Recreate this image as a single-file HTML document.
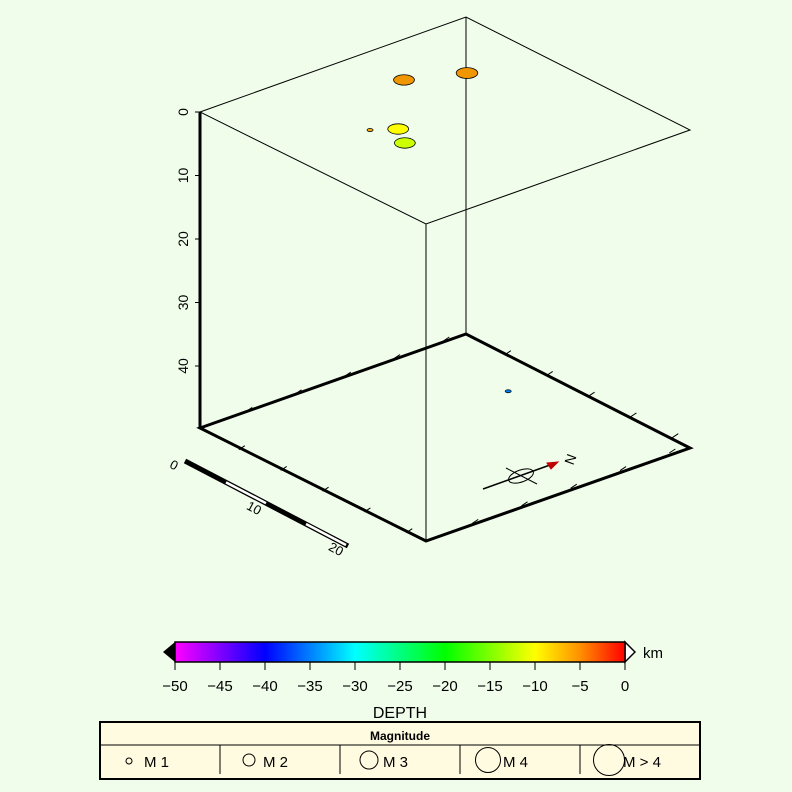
<!DOCTYPE html>
<html><head><meta charset="utf-8"><style>
html,body{margin:0;padding:0;background:#f0fdea;}
svg{display:block;font-family:"Liberation Sans",sans-serif;}
</style></head><body>
<svg id="chart" width="792" height="792" viewBox="0 0 792 792">
<rect width="792" height="792" fill="#f0fdea"/>
<g id="box" fill="none" stroke="#000">
  <polygon points="200,112 466,17 690,130 426,224" stroke-width="1"/>
  <line x1="466" y1="17" x2="466" y2="334" stroke-width="1"/>
  <line x1="426" y1="224" x2="426" y2="541" stroke-width="1"/>
  <line x1="200" y1="112" x2="200" y2="428" stroke-width="3"/>
  <polygon points="200,428 466,334 690,448 426,541" stroke-width="3"/>
</g>
<g id="ticks" stroke="#000" stroke-width="1"></g>
<g id="zaxis"></g>
<g>
  <line x1="185" y1="461" x2="348" y2="546" stroke="#000" stroke-width="5"/>
  <line x1="226" y1="482.4" x2="266" y2="503.2" stroke="#fff" stroke-width="2.5"/>
  <line x1="306" y1="524" x2="346" y2="545" stroke="#fff" stroke-width="2.5"/>
  <text x="172" y="469" font-size="13" transform="rotate(28 172 469)" text-anchor="middle">0</text>
  <text x="252" y="512" font-size="13" transform="rotate(28 252 512)" text-anchor="middle">10</text>
  <text x="334" y="553" font-size="13" transform="rotate(28 334 553)" text-anchor="middle">20</text>
</g>
<g stroke="#000" fill="none">
  <line x1="483" y1="489" x2="550" y2="465" stroke-width="1.5"/>
  <ellipse cx="521" cy="476" rx="13" ry="6" transform="rotate(-20 521 476)"/>
  <line x1="506" y1="468" x2="537" y2="484"/>
  <polygon points="547,463 558,462 551,469" fill="#c00000" stroke="#c00000"/>
  <text x="575" y="461" font-size="14" fill="#000" stroke="none" transform="rotate(-70 575 461)" text-anchor="middle">N</text>
</g>
<g id="events"></g>
<defs><linearGradient id="rainbow" x1="0" x2="1" y1="0" y2="0">
  <stop offset="0" stop-color="#ff00ff"/><stop offset="0.1" stop-color="#8000ff"/>
  <stop offset="0.2" stop-color="#0000ff"/><stop offset="0.4" stop-color="#00ffff"/>
  <stop offset="0.6" stop-color="#00ff00"/><stop offset="0.8" stop-color="#ffff00"/>
  <stop offset="0.9" stop-color="#ff9000"/><stop offset="1" stop-color="#ff0000"/>
</linearGradient></defs>
<g>
  <polygon points="175,642 163,652 175,662" fill="#000"/>
  <polygon points="625,642 635,652 625,662" fill="#fff" stroke="#000" stroke-width="1.5"/>
  <rect x="175" y="642" width="450" height="20" fill="url(#rainbow)" stroke="#000" stroke-width="1.5"/>
  <text x="643" y="658" font-size="15">km</text>
  <g id="cbticks"></g>
  <text x="400" y="718" font-size="16" text-anchor="middle">DEPTH</text>
</g>
<g>
  <rect x="100" y="722" width="600" height="57" fill="#fffbe0" stroke="#000" stroke-width="2"/>
  <line x1="100" y1="745" x2="700" y2="745" stroke="#000"/>
  <text x="400" y="740" font-size="12" font-weight="bold" text-anchor="middle">Magnitude</text>
  <g stroke="#000"><line x1="220" y1="745" x2="220" y2="774"/><line x1="340" y1="745" x2="340" y2="774"/><line x1="460" y1="745" x2="460" y2="774"/><line x1="580" y1="745" x2="580" y2="774"/></g>
  <g fill="none" stroke="#000">
    <circle cx="129" cy="761" r="3"/>
    <circle cx="249" cy="760" r="6"/>
    <circle cx="369" cy="760" r="9"/>
    <circle cx="488" cy="760" r="12.5"/>
    <circle cx="609" cy="760" r="15.5"/>
  </g>
  <g font-size="15">
    <text x="144" y="767">M 1</text>
    <text x="263" y="767">M 2</text>
    <text x="383" y="767">M 3</text>
    <text x="503" y="767">M 4</text>
    <text x="623" y="767">M &gt; 4</text>
  </g>
</g>
</svg>
<script>
// event data: fractional position along box axes (east, north), depth km, magnitude
const eventEast = [0.727, 0.895, 0.46, 0.638, 0.647, 0.422];
const eventNorth = [0.047, 0.128, 0.211, 0.126, 0.145, 0.867];
const eventDepth = [5, 5, 6, 10, 12, 35];
const eventMag = [2.6, 2.7, 1.0, 2.6, 2.6, 1.0];
const depthTicks = [0, 10, 20, 30, 40];
const cbTicks = [-50, -45, -40, -35, -30, -25, -20, -15, -10, -5, 0];

const NS = "http://www.w3.org/2000/svg";
const O = [200, 112], U = [266, -95], V = [226, 112], KM = 6.35;
function proj(e, n, d) { return [O[0] + e * U[0] + n * V[0], O[1] + e * U[1] + n * V[1] + d * KM]; }
function el(tag, attrs, parent) { const x = document.createElementNS(NS, tag); for (const k in attrs) x.setAttribute(k, attrs[k]); parent.appendChild(x); return x; }
const stops = [[-50,[255,0,255]],[-45,[128,0,255]],[-40,[0,0,255]],[-30,[0,255,255]],[-20,[0,255,0]],[-10,[255,255,0]],[-5,[240,150,0]],[0,[255,0,0]]];
function cmap(z) {
  z = Math.max(-50, Math.min(0, z));
  for (let i = 0; i < stops.length - 1; i++) {
    const a = stops[i], b = stops[i + 1];
    if (z >= a[0] && z <= b[0]) { const t = (z - a[0]) / (b[0] - a[0]); const c = a[1].map((v, j) => Math.round(v + (b[1][j] - v) * t)); return `rgb(${c.join(',')})`; }
  }
  return "red";
}
// depth axis
const za = document.getElementById('zaxis');
depthTicks.forEach(t => {
  const y = O[1] + t * KM;
  const l = el('line', { x1: 195, y1: y, x2: 200, y2: y, stroke: '#000' }, za);
  
  
  const tx = el('text', { x: 188, y: y, 'font-size': 14, 'text-anchor': 'middle', transform: `rotate(-90 188 ${y})` }, za);
  tx.textContent = t;
  
  
});
// floor ticks (short, pointing inward-up)
const tg = document.getElementById('ticks');
for (let i = 1; i < 6; i++) {
  const f = i / 5.4;
  [proj(f, 0, 49.6), proj(f, 1, 49.6), proj(0, f, 49.6), proj(1, f, 49.6)].forEach(p => {
    const l = el('line', { x1: p[0] - 3, y1: p[1] + 2, x2: p[0] + 3, y2: p[1] - 2 }, tg);
    
    
  });
}
// events
const eg = document.getElementById('events');
eventEast.forEach((e, i) => {
  const p = proj(e, eventNorth[i], eventDepth[i]);
  const r = eventMag[i] <= 1 ? 3 : 4 * eventMag[i];
  const c = el('ellipse', { cx: p[0], cy: p[1], rx: r, ry: r / 2, fill: cmap(-eventDepth[i]), stroke: '#000', 'stroke-width': 0.8 }, eg);
  
  
});
// colorbar ticks
const cb = document.getElementById('cbticks');
cbTicks.forEach(t => {
  const x = 175 + (t + 50) / 50 * 450;
  const l = el('line', { x1: x, y1: 662, x2: x, y2: 670, stroke: '#000' }, cb);
  
  
  const tx = el('text', { x: x, y: 691, 'font-size': 15, 'text-anchor': 'middle' }, cb);
  tx.textContent = t < 0 ? '\u2212' + (-t) : t;
  
  
});
</script>
</body></html>
